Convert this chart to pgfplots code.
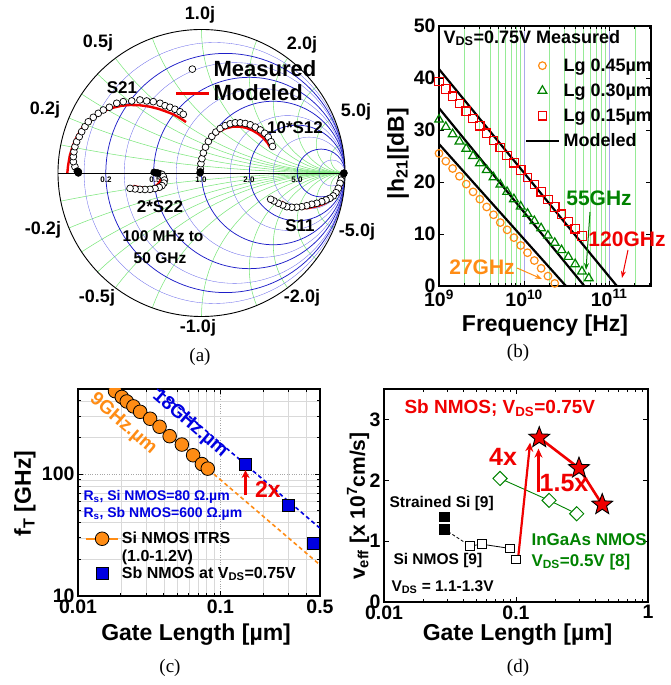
\documentclass[border=0pt]{standalone}
\usepackage{fontspec}
\setmainfont{Liberation Sans}
\newfontfamily\seriffont{Liberation Serif}
\usepackage{pgfplots}
\pgfplotsset{compat=1.18}
\usetikzlibrary{arrows.meta}
\newcommand{\fs}[1]{\fontsize{#1}{#1}\selectfont}
\definecolor{sborange}{RGB}{255,140,20}
\definecolor{sbgreen}{RGB}{0,130,0}
\definecolor{sbred}{RGB}{240,0,0}
\definecolor{sbblue}{RGB}{0,0,225}
\definecolor{gridgreen}{RGB}{125,230,125}
\definecolor{gridblue}{RGB}{30,30,200}
\definecolor{gridbluel}{RGB}{110,110,235}
\definecolor{gridlav}{RGB}{170,170,235}
\definecolor{lgreen}{RGB}{150,235,150}
\pgfdeclareplotmark{fstar}{%
  \pgfpathmoveto{\pgfpointpolar{90}{\pgfplotmarksize}}%
  \pgfpathlineto{\pgfpointpolar{126}{0.42\pgfplotmarksize}}%
  \pgfpathlineto{\pgfpointpolar{162}{\pgfplotmarksize}}%
  \pgfpathlineto{\pgfpointpolar{198}{0.42\pgfplotmarksize}}%
  \pgfpathlineto{\pgfpointpolar{234}{\pgfplotmarksize}}%
  \pgfpathlineto{\pgfpointpolar{270}{0.42\pgfplotmarksize}}%
  \pgfpathlineto{\pgfpointpolar{306}{\pgfplotmarksize}}%
  \pgfpathlineto{\pgfpointpolar{342}{0.42\pgfplotmarksize}}%
  \pgfpathlineto{\pgfpointpolar{18}{\pgfplotmarksize}}%
  \pgfpathlineto{\pgfpointpolar{54}{0.42\pgfplotmarksize}}%
  \pgfpathclose
  \pgfusepathqfillstroke}
\pgfplotsset{
  myax/.style={scale only axis, anchor=south west, enlargelimits=false,
    /pgf/number format/assume math mode=true,
    tick label style={font=\bfseries\fs{19.5}},
    label style={font=\bfseries\fs{23}},
    axis line style={line width=1.1pt},
    tick style={black, line width=0.8pt},
    major tick length=5pt, minor tick length=3pt, tick align=inside},
  meas/.style={only marks, mark=*, mark size=3.4pt, black, mark options={fill=white, draw=black, line width=0.7pt}},
  blob/.style={only marks, mark=*, mark size=3.5pt, black, forget plot},
  model/.style={no marks, sbred, line width=2.4pt},
}
\begin{document}
\begin{tikzpicture}[x=1pt,y=1pt]
\path[use as bounding box] (0,0) rectangle (670,685);
% ---------------- (a) Smith chart grid ----------------
\begin{scope}[x=143.5pt,y=143.5pt,shift={(201.5pt,512pt)}]
  \begin{scope}
    \clip (0,0) circle (1);
    \foreach \xx in {0.1,0.2,0.3,0.4,0.5,0.7,1,1.5,2,3,5,10} {
      \draw[gridgreen, line width=0.55pt] (1,{1/\xx}) circle ({1/\xx});
      \draw[gridgreen, line width=0.55pt] (1,{-1/\xx}) circle ({1/\xx});
    }
    \foreach \r/\w/\c in {0.1/0.35/gridbluel,0.2/0.75/gridblue,0.3/0.35/gridbluel,0.5/0.75/gridblue,0.7/0.35/gridbluel,1/0.75/gridblue,1.5/0.35/gridbluel,2/0.75/gridblue,3/0.35/gridbluel,5/0.75/gridblue,10/0.35/gridbluel} {
      \draw[\c, line width=\w pt] ({\r/(1+\r)},0) circle ({1/(1+\r)});
    }
  \end{scope}
  \draw[line width=0.9pt] (0,0) circle (1);
  \draw[line width=0.9pt] (-1,0) -- (1,0);
\end{scope}
\foreach \px/\lab in {106/0.2,155/0.5,201/1.0,249/2.0,297/5.0}
  \node[font=\bfseries\fs{8}] at (\px,505) {\lab};
% ---------------- (a) data ----------------
\begin{axis}[myax, at={(58pt,368.5pt)}, width=287pt, height=287pt,
  xmin=-1, xmax=1, ymin=-1, ymax=1, hide axis, clip=false,
  legend style={at={(0.397,0.90)}, anchor=north west, draw=none, fill=none,
    font=\bfseries\fs{22}, row sep=7pt, nodes={inner ysep=0pt, inner xsep=3pt}},
  legend cell align=left,
  legend image code/.code={\draw[mark repeat=2,mark phase=2,#1] plot coordinates {(0pt,0pt) (16pt,0pt) (33pt,0pt)};}]
\addplot[meas] coordinates {(-0.858,0.009)(-0.882,0.044)(-0.893,0.079)(-0.893,0.114)(-0.889,0.148)(-0.882,0.183)(-0.870,0.218)(-0.852,0.253)(-0.835,0.288)(-0.812,0.323)(-0.789,0.357)(-0.754,0.388)(-0.719,0.416)(-0.684,0.439)(-0.642,0.458)(-0.591,0.486)(-0.545,0.497)(-0.486,0.502)(-0.429,0.509)(-0.382,0.502)(-0.336,0.497)(-0.289,0.486)(-0.254,0.469)(-0.220,0.458)(-0.185,0.444)(-0.150,0.427)(-0.127,0.409)};
\addlegendentry{Measured}
\addplot[model] coordinates {(-0.935,0.0)(-0.930,0.05)(-0.918,0.12)(-0.900,0.18)(-0.875,0.24)(-0.842,0.30)(-0.800,0.350)(-0.750,0.392)(-0.690,0.428)(-0.625,0.453)(-0.560,0.468)(-0.498,0.474)(-0.430,0.472)(-0.359,0.462)(-0.300,0.447)(-0.243,0.427)(-0.200,0.410)(-0.162,0.390)(-0.130,0.370)(-0.108,0.355)};
\addlegendentry{Modeled}
\addplot[blob] coordinates {(-0.858,0.0)(-0.862,0.006)(-0.866,0.013)};
% S12 x10
\addplot[meas, forget plot] coordinates {(-0.008,0.03)(-0.004,0.065)(0.003,0.10)(0.013,0.14)(0.028,0.18)(0.048,0.22)(0.072,0.255)(0.100,0.285)(0.130,0.310)(0.165,0.330)(0.200,0.343)(0.235,0.350)(0.270,0.350)(0.305,0.345)(0.340,0.336)(0.375,0.320)(0.410,0.300)(0.440,0.277)(0.465,0.250)(0.485,0.218)(0.495,0.185)};
\addplot[blob] coordinates {(-0.010,0.0)(-0.008,0.008)};
\addplot[model, forget plot] coordinates {(-0.013,0.0)(-0.011,0.05)(-0.004,0.10)(0.010,0.15)(0.035,0.20)(0.070,0.245)(0.115,0.285)(0.165,0.310)(0.215,0.322)(0.265,0.323)(0.310,0.315)(0.355,0.297)(0.395,0.273)(0.430,0.245)(0.460,0.210)(0.478,0.180)};
% S22 x2
\addplot[meas, forget plot] coordinates {(-0.290,-0.005)(-0.275,-0.010)(-0.266,-0.025)(-0.258,-0.049)(-0.262,-0.070)(-0.275,-0.088)(-0.295,-0.100)(-0.324,-0.108)(-0.359,-0.114)(-0.394,-0.115)(-0.429,-0.114)(-0.463,-0.111)(-0.498,-0.107)};
\addplot[blob] coordinates {(-0.330,0.005)(-0.318,0.0)(-0.305,0.0)};
\addplot[model, forget plot] coordinates {(-0.270,-0.005)(-0.277,-0.030)(-0.289,-0.060)(-0.305,-0.080)(-0.324,-0.093)(-0.352,-0.102)(-0.382,-0.105)(-0.415,-0.102)(-0.440,-0.098)(-0.475,-0.090)};
% S11
\addplot[meas, forget plot] coordinates {(0.985,-0.012)(0.977,-0.026)(0.972,-0.050)(0.965,-0.072)(0.953,-0.107)(0.937,-0.137)(0.918,-0.160)(0.895,-0.176)(0.868,-0.188)(0.838,-0.200)(0.803,-0.211)(0.768,-0.218)(0.733,-0.228)(0.698,-0.235)(0.663,-0.239)(0.629,-0.239)(0.594,-0.235)(0.566,-0.223)(0.535,-0.211)(0.505,-0.195)(0.482,-0.183)};
\addplot[blob] coordinates {(0.993,0.0)(0.99,-0.005)};
\addplot[model, forget plot] coordinates {(0.990,0.010)(0.985,-0.030)(0.977,-0.072)(0.965,-0.105)(0.950,-0.135)(0.930,-0.160)(0.900,-0.185)(0.861,-0.211)(0.820,-0.227)(0.779,-0.237)(0.740,-0.244)(0.709,-0.246)(0.675,-0.244)(0.640,-0.239)(0.615,-0.232)(0.594,-0.223)(0.575,-0.212)(0.559,-0.200)};
\end{axis}
\begin{scope}[font=\bfseries\fs{18}]
\node at (200,670) {1.0j};
\node at (98,642) {0.5j};
\node at (302,640) {2.0j};
\node at (45,575) {0.2j};
\node at (356,573) {5.0j};
\node at (43,455) {-0.2j};
\node at (357,453) {-5.0j};
\node at (97,387) {-0.5j};
\node at (302,387) {-2.0j};
\node at (198,357) {-1.0j};
\end{scope}
\begin{scope}[font=\bfseries\fs{17}]
\node at (122,597) {S21};
\node at (295,557) {10*S12};
\node at (160,478) {2*S22};
\node at (300,459) {S11};
\end{scope}
\node[font=\bfseries\fs{15.5}] at (163,449) {100 MHz to};
\node[font=\bfseries\fs{15.5}] at (160,427) {50 GHz};
% ---------------- (b) ----------------
\begin{axis}[myax, at={(439pt,399pt)}, width=212pt, height=260pt,
  xmode=log, xmin=1e9, xmax=3.1e11, ymin=0, ymax=50,
  xtick={1e9,1e10,1e11}, xticklabels={10\textsuperscript{9},10\textsuperscript{10},10\textsuperscript{11}},
  minor xtick={2e9,3e9,4e9,5e9,6e9,7e9,8e9,9e9,2e10,3e10,4e10,5e10,6e10,7e10,8e10,9e10,2e11,3e11},
  ytick={0,10,20,30,40,50},
  xmajorgrids, xminorgrids,
  major grid style={gridlav, line width=0.7pt},
  minor grid style={lgreen, line width=0.5pt},
  xlabel={Frequency [Hz]}, ylabel={|h\textsubscript{21}|[dB]},
  xlabel style={at={(axis description cs:0.5,-0.154)}, anchor=center},
  ylabel style={at={(axis description cs:-0.193,0.51)}, anchor=center},
  legend style={at={(0.392,0.883)}, anchor=north west, draw=none, fill=none,
    font=\bfseries\fs{18}, row sep=11pt, nodes={inner ysep=0pt, inner xsep=3pt}},
  legend cell align=left,
  legend image code/.code={\draw[mark repeat=2,mark phase=2,#1] plot coordinates {(0pt,0pt) (16pt,0pt) (33pt,0pt)};}]
\addplot[only marks, mark=o, sborange, mark size=3.8pt, mark options={line width=1.2pt}] coordinates {
(1.000e9,25.5)(1.202e9,24.0)(1.445e9,22.6)(1.738e9,21.1)(2.089e9,19.6)(2.512e9,18.1)(3.020e9,16.7)(3.631e9,15.2)(4.365e9,13.7)(5.248e9,12.2)(6.310e9,10.8)(7.586e9,9.3)(9.120e9,7.8)(1.096e10,6.4)(1.318e10,4.9)(1.585e10,3.4)(1.905e10,1.9)(2.291e10,0.5)};
\addlegendentry{Lg 0.45µm}
\addplot[only marks, mark=triangle, sbgreen, mark size=5pt, mark options={line width=1.2pt}] coordinates {
(1.000e9,32.0)(1.202e9,30.6)(1.445e9,29.2)(1.738e9,27.8)(2.089e9,26.4)(2.512e9,25.0)(3.020e9,23.6)(3.631e9,22.3)(4.365e9,20.9)(5.248e9,19.5)(6.310e9,18.1)(7.586e9,16.7)(9.120e9,15.3)(1.096e10,13.9)(1.318e10,12.5)(1.585e10,11.1)(1.905e10,9.7)(2.291e10,8.3)(2.754e10,6.9)(3.311e10,5.6)(3.981e10,4.2)(4.786e10,2.8)(5.754e10,1.5)};
\addlegendentry{Lg 0.30µm}
\addplot[only marks, mark=square, sbred, mark size=4.2pt, mark options={line width=1.2pt}] coordinates {
(1.000e9,39.3)(1.202e9,37.9)(1.445e9,36.5)(1.738e9,35.1)(2.089e9,33.6)(2.512e9,32.2)(3.020e9,30.8)(3.631e9,29.4)(4.365e9,28.0)(5.248e9,26.6)(6.310e9,25.1)(7.586e9,23.7)(9.120e9,22.3)(1.096e10,20.9)(1.318e10,19.5)(1.585e10,18.1)(1.905e10,16.6)(2.291e10,15.2)(2.754e10,13.8)(3.311e10,12.4)(3.981e10,11.0)(4.786e10,9.6)};
\addlegendentry{Lg 0.15µm}
\addplot[black, line width=2.2pt, no marks] coordinates {(1e9,41.7)(1.23e11,0)};
\addlegendentry{Modeled}
\addplot[black, line width=2.2pt, no marks, forget plot] coordinates {(1e9,34.2)(5.1e10,0)};
\addplot[black, line width=2.2pt, no marks, forget plot] coordinates {(1e9,27.3)(3.1e10,0)};
\end{axis}
\node[font=\bfseries\fs{18}, anchor=west] at (440,647) {V\textsubscript{DS}=0.75V Measured};
\node[font=\bfseries\fs{21}, text=sbgreen] at (599,487) {55GHz};
\draw[sbgreen, line width=1pt, -{Stealth[length=7pt,width=5pt]}] (590,473) -- (586,415);
\node[font=\bfseries\fs{21}, text=sbred] at (627,446) {120GHz};
\draw[sbred, line width=1pt, -{Stealth[length=7pt,width=5pt]}] (628,435) -- (622,407);
\node[font=\bfseries\fs{21}, text=sborange] at (482,418) {27GHz};
\draw[sborange, line width=1pt, -{Stealth[length=7pt,width=5pt]}] (517,417) -- (542,406);
% ---------------- (c) ----------------
\begin{axis}[myax, at={(78pt,89pt)}, width=242pt, height=207pt,
  xmode=log, ymode=log, xmin=0.01, xmax=0.5, ymin=10, ymax=500,
  xtick={0.01,0.1,0.5}, xticklabels={0.01,0.1,0.5},
  ytick={10,100}, yticklabels={10,100},
  minor xtick={0.02,0.03,0.04,0.05,0.06,0.07,0.08,0.09,0.2,0.3,0.4},
  minor ytick={20,30,40,50,60,70,80,90,200,300,400},
  grid=both, major grid style={gray!70, dotted, line width=0.6pt},
  minor grid style={gray!30, line width=0.4pt},
  clip marker paths=true,
  xlabel={Gate Length [µm]}, ylabel={f\textsubscript{T} [GHz]},
  xlabel style={at={(axis description cs:0.488,-0.1875)}, anchor=center},
  ylabel style={at={(axis description cs:-0.219,0.495)}, anchor=center},
  legend style={at={(0.017,0.32)}, anchor=north west, draw=none, fill=none,
    font=\bfseries\fs{16}, row sep=4pt, nodes={inner ysep=0pt, inner xsep=3pt}},
  legend cell align=left,
  legend image code/.code={\draw[mark repeat=2,mark phase=2,#1] plot coordinates {(0pt,0pt) (16pt,0pt) (32pt,0pt)};}]
\addplot[sborange, line width=1.6pt, dash pattern=on 4pt off 3pt, forget plot] coordinates {(0.09,100)(0.5,18)};
\addplot[sbblue, line width=1.6pt, dash pattern=on 4pt off 3pt, forget plot] coordinates {(0.036,500)(0.5,36)};
\addplot[sborange, line width=1.6pt, mark=*, mark size=6.8pt, mark options={fill=sborange, draw=black, line width=0.8pt}] coordinates {
(0.0182,480)(0.0203,430)(0.0220,395)(0.0245,360)(0.0273,325)(0.0321,285)(0.0374,245)(0.0440,205)(0.0536,175)(0.0643,143)(0.0741,121)(0.0815,111)};
\addlegendentry{Si NMOS ITRS}
\addlegendimage{empty legend}
\addlegendentry{(1.0-1.2V)}
\addplot[only marks, mark=square*, mark size=6pt, mark options={fill=sbblue, draw=black, line width=0.8pt}] coordinates {(0.15,120)(0.30,55)(0.45,27)};
\addlegendentry{Sb NMOS at V\textsubscript{DS}=0.75V}
\draw[sbred, line width=2.4pt, -{Stealth[length=8pt,width=8pt]}] (axis cs:0.15,67) -- (axis cs:0.15,108);
\end{axis}
\node[font=\bfseries\fs{19}, text=sborange, rotate=-40.7] at (123,261) {9GHz.µm};
\node[font=\bfseries\fs{19}, text=sbblue, rotate=-40.7] at (190,261) {18GHz.µm};
\node[font=\bfseries\fs{23}, text=sbred] at (268,196) {2x};
\node[font=\bfseries\fs{14}, text=sbblue, anchor=west] at (80,188) {R\textsubscript{s}, Si NMOS=80 Ω.µm};
\node[font=\bfseries\fs{14}, text=sbblue, anchor=west] at (80,171) {R\textsubscript{s}, Sb NMOS=600 Ω.µm};
% ---------------- (d) ----------------
\begin{axis}[myax, at={(384pt,83pt)}, width=264pt, height=213pt,
  xmode=log, xmin=0.01, xmax=1, ymin=0, ymax=3.5,
  xtick={0.01,0.1,1}, xticklabels={0.01,0.1,1},
  minor xtick={0.02,0.03,0.04,0.05,0.06,0.07,0.08,0.09,0.2,0.3,0.4,0.5,0.6,0.7,0.8,0.9},
  ytick={0,1,2,3},
  xlabel={Gate Length [µm]}, ylabel={v\textsubscript{eff} [x 10\textsuperscript{7}cm/s]},
  xlabel style={at={(axis description cs:0.506,-0.155)}, anchor=center},
  ylabel style={at={(axis description cs:-0.098,0.45)}, anchor=center, font=\bfseries\fs{21}}]
\addplot[black, line width=0.8pt, densely dashed] coordinates {(0.0285,1.2)(0.045,0.92)};
\addplot[black, line width=0.8pt] coordinates {(0.045,0.92)(0.055,0.95)(0.09,0.88)};
\addplot[only marks, mark=square*, black, mark size=4.8pt] coordinates {(0.0285,1.4)(0.0285,1.2)};
\addplot[only marks, mark=square*, black, mark size=4.3pt, mark options={fill=white, draw=black, line width=1pt}] coordinates {(0.045,0.92)(0.055,0.95)(0.09,0.88)(0.1,0.70)};
\addplot[sbgreen, line width=0.9pt, mark=square*, mark size=5pt, mark options={rotate=45, fill=white, draw=sbgreen, line width=1pt}] coordinates {(0.0757,2.03)(0.178,1.67)(0.288,1.45)};
\draw[sbred, line width=2.2pt, -{Stealth[length=9pt,width=8pt]}] (axis cs:0.104,0.74) -- (axis cs:0.128,2.62);
\draw[sbred, line width=2.2pt, -{Stealth[length=9pt,width=8pt]}] (axis cs:0.148,1.81) -- (axis cs:0.148,2.52);
\addplot[sbred, line width=2.6pt, mark=fstar, mark size=11pt, mark options={fill=sbred, draw=black, line width=0.9pt}] coordinates {(0.15,2.7)(0.3,2.2)(0.45,1.6)};
\end{axis}
\node[font=\bfseries\fs{19}, text=sbred, anchor=west] at (401,277) {Sb NMOS; V\textsubscript{DS}=0.75V};
\node[font=\bfseries\fs{15.5}, anchor=west] at (386,182) {Strained Si [9]};
\node[font=\bfseries\fs{15.5}, anchor=west] at (390,125) {Si NMOS [9]};
\node[font=\bfseries\fs{15.5}, anchor=west] at (388,98) {V\textsubscript{DS} = 1.1-1.3V};
\node[font=\bfseries\fs{17}, text=sbgreen, anchor=west] at (528,145) {InGaAs NMOS};
\node[font=\bfseries\fs{17}, text=sbgreen, anchor=west] at (528,123) {V\textsubscript{DS}=0.5V [8]};
\node[font=\bfseries\fs{25}, text=sbred] at (503,228) {4x};
\node[font=\bfseries\fs{25}, text=sbred] at (564,202) {1.5x};
% ---------------- captions ----------------
\node[font=\seriffont\fs{19}] at (200,328) {(a)};
\node[font=\seriffont\fs{19}] at (518,332) {(b)};
\node[font=\seriffont\fs{19}] at (170,17) {(c)};
\node[font=\seriffont\fs{19}] at (518,17) {(d)};
\end{tikzpicture}
\end{document}
